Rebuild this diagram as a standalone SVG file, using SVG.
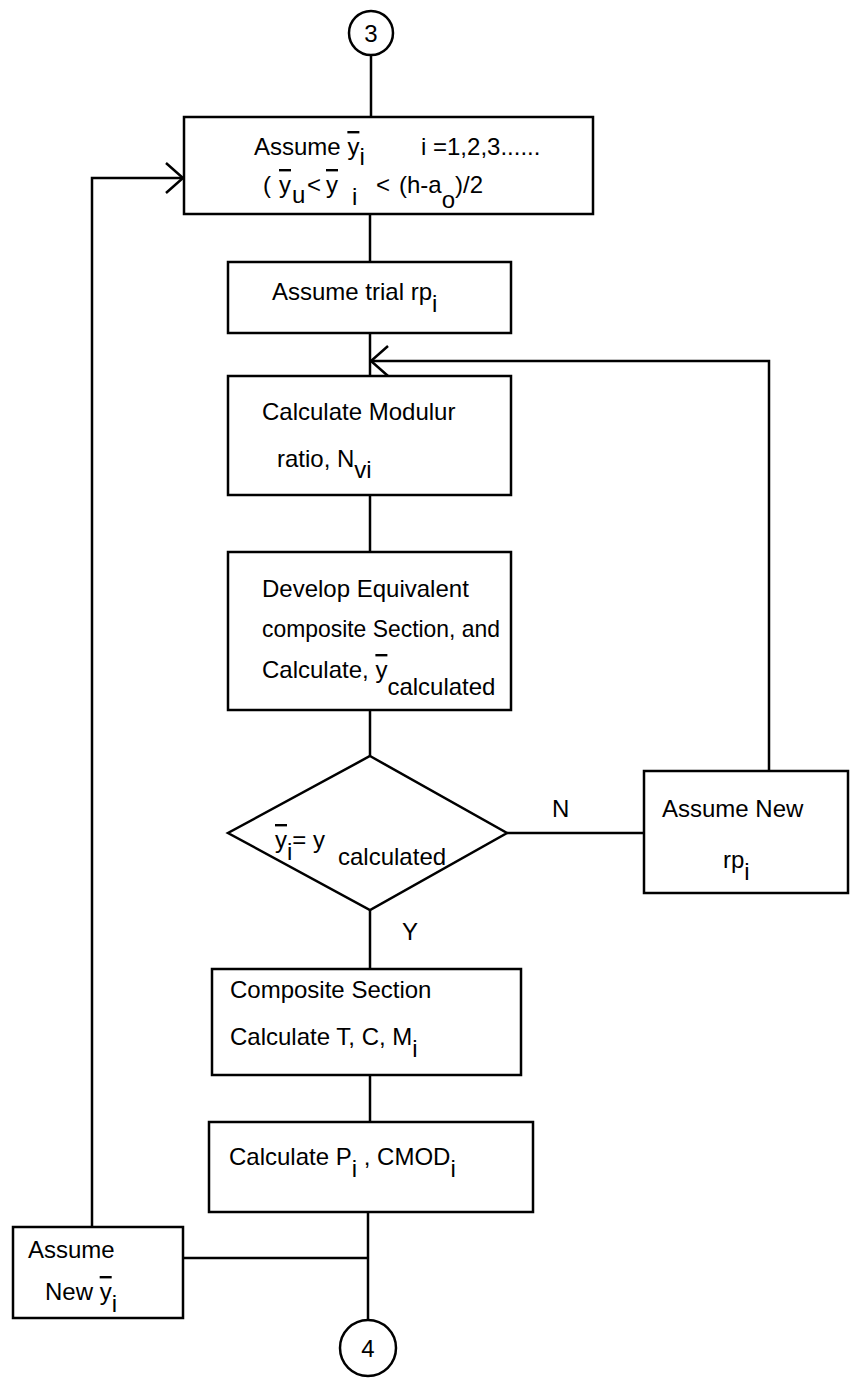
<svg xmlns="http://www.w3.org/2000/svg" width="850" height="1379" viewBox="0 0 850 1379">
<style>
  .box{fill:#fff;stroke:#000;stroke-width:2.5}
  .ln{fill:none;stroke:#000;stroke-width:2.5}
  text{font-family:"Liberation Sans",Arial,sans-serif;font-size:24px;fill:#000}
  .ov{text-decoration:overline}
</style>
<defs>
  <marker id="chev" markerUnits="userSpaceOnUse" viewBox="-22 -20 26 40" markerWidth="26" markerHeight="40" refX="0" refY="0" orient="auto">
    <path d="M-17,-15 L0,0 L-17,15" fill="none" stroke="#000" stroke-width="2.5"/>
  </marker>
</defs>
<rect width="850" height="1379" fill="#fff"/>
<g id="connectors">
  <line class="ln" x1="371" y1="55" x2="371" y2="117"/>
  <line class="ln" x1="370" y1="214" x2="370" y2="262"/>
  <line class="ln" x1="370" y1="333" x2="370" y2="376"/>
  <line class="ln" x1="370" y1="495" x2="370" y2="552"/>
  <line class="ln" x1="370" y1="710" x2="370" y2="756"/>
  <line class="ln" x1="507" y1="833" x2="644" y2="833"/>
  <polyline class="ln" points="769,771 769,361 371,361" marker-end="url(#chev)"/>
  <line class="ln" x1="370" y1="910" x2="370" y2="969"/>
  <line class="ln" x1="370" y1="1075" x2="370" y2="1122"/>
  <line class="ln" x1="368" y1="1212" x2="368" y2="1320"/>
  <line class="ln" x1="183" y1="1258" x2="368" y2="1258"/>
  <polyline class="ln" points="92,1227 92,178 183,178" marker-end="url(#chev)"/>
  <text x="552" y="817">N</text>
  <text x="402" y="940">Y</text>
</g>
<g id="c3">
  <circle class="box" cx="371" cy="33" r="22"/>
  <text x="371" y="42" text-anchor="middle">3</text>
</g>
<g id="assume-y">
  <rect class="box" x="184" y="117" width="409" height="97"/>
  <text y="155"><tspan x="254">Assume </tspan><tspan class="ov">y</tspan><tspan y="165">i</tspan><tspan x="421" y="155">i =1,2,3......</tspan></text>
  <text y="193"><tspan x="263">(</tspan><tspan x="279" class="ov">y</tspan><tspan x="292" y="203">u</tspan><tspan x="307" y="193">&lt;</tspan><tspan x="326" class="ov">y</tspan><tspan x="352" y="205">i</tspan><tspan x="376" y="193">&lt;</tspan><tspan x="399">(h-a</tspan><tspan y="208">o</tspan><tspan y="193">)/2</tspan></text>
</g>
<g id="trial">
  <rect class="box" x="228" y="262" width="283" height="71"/>
  <text y="300"><tspan x="272">Assume trial rp</tspan><tspan y="312">i</tspan></text>
</g>
<g id="modular">
  <rect class="box" x="228" y="376" width="283" height="119"/>
  <text x="262" y="420">Calculate Modulur</text>
  <text y="467"><tspan x="277">ratio,  N</tspan><tspan y="478">vi</tspan></text>
</g>
<g id="develop">
  <rect class="box" x="228" y="552" width="283" height="158"/>
  <text x="262" y="597">Develop Equivalent</text>
  <text x="262" y="637" textLength="238" lengthAdjust="spacingAndGlyphs">composite Section, and</text>
  <text y="678"><tspan x="262">Calculate, </tspan><tspan class="ov">y</tspan><tspan y="695">calculated</tspan></text>
</g>
<g id="decision">
  <polygon class="box" points="370,756 507,833 370,910 228,833"/>
  <text y="848"><tspan x="275" class="ov">y</tspan><tspan y="860">i</tspan><tspan y="848">= y</tspan><tspan x="338" y="865">calculated</tspan></text>
</g>
<g id="new-rp">
  <rect class="box" x="644" y="771" width="204" height="122"/>
  <text x="662" y="817">Assume New</text>
  <text y="868"><tspan x="723">rp</tspan><tspan y="880">i</tspan></text>
</g>
<g id="composite">
  <rect class="box" x="212" y="969" width="309" height="106"/>
  <text x="230" y="998">Composite Section</text>
  <text y="1045"><tspan x="230">Calculate T, C, M</tspan><tspan y="1057">i</tspan></text>
</g>
<g id="calc-p">
  <rect class="box" x="209" y="1122" width="324" height="90"/>
  <text y="1165"><tspan x="229">Calculate  P</tspan><tspan y="1177">i</tspan><tspan y="1165"> , CMOD</tspan><tspan y="1177">i</tspan></text>
</g>
<g id="new-y">
  <rect class="box" x="13" y="1227" width="170" height="91"/>
  <text x="28" y="1258">Assume</text>
  <text y="1300"><tspan x="45">New </tspan><tspan class="ov">y</tspan><tspan y="1312">i</tspan></text>
</g>
<g id="c4">
  <circle class="box" cx="368" cy="1348" r="28"/>
  <text x="368" y="1357" text-anchor="middle">4</text>
</g>
</svg>
